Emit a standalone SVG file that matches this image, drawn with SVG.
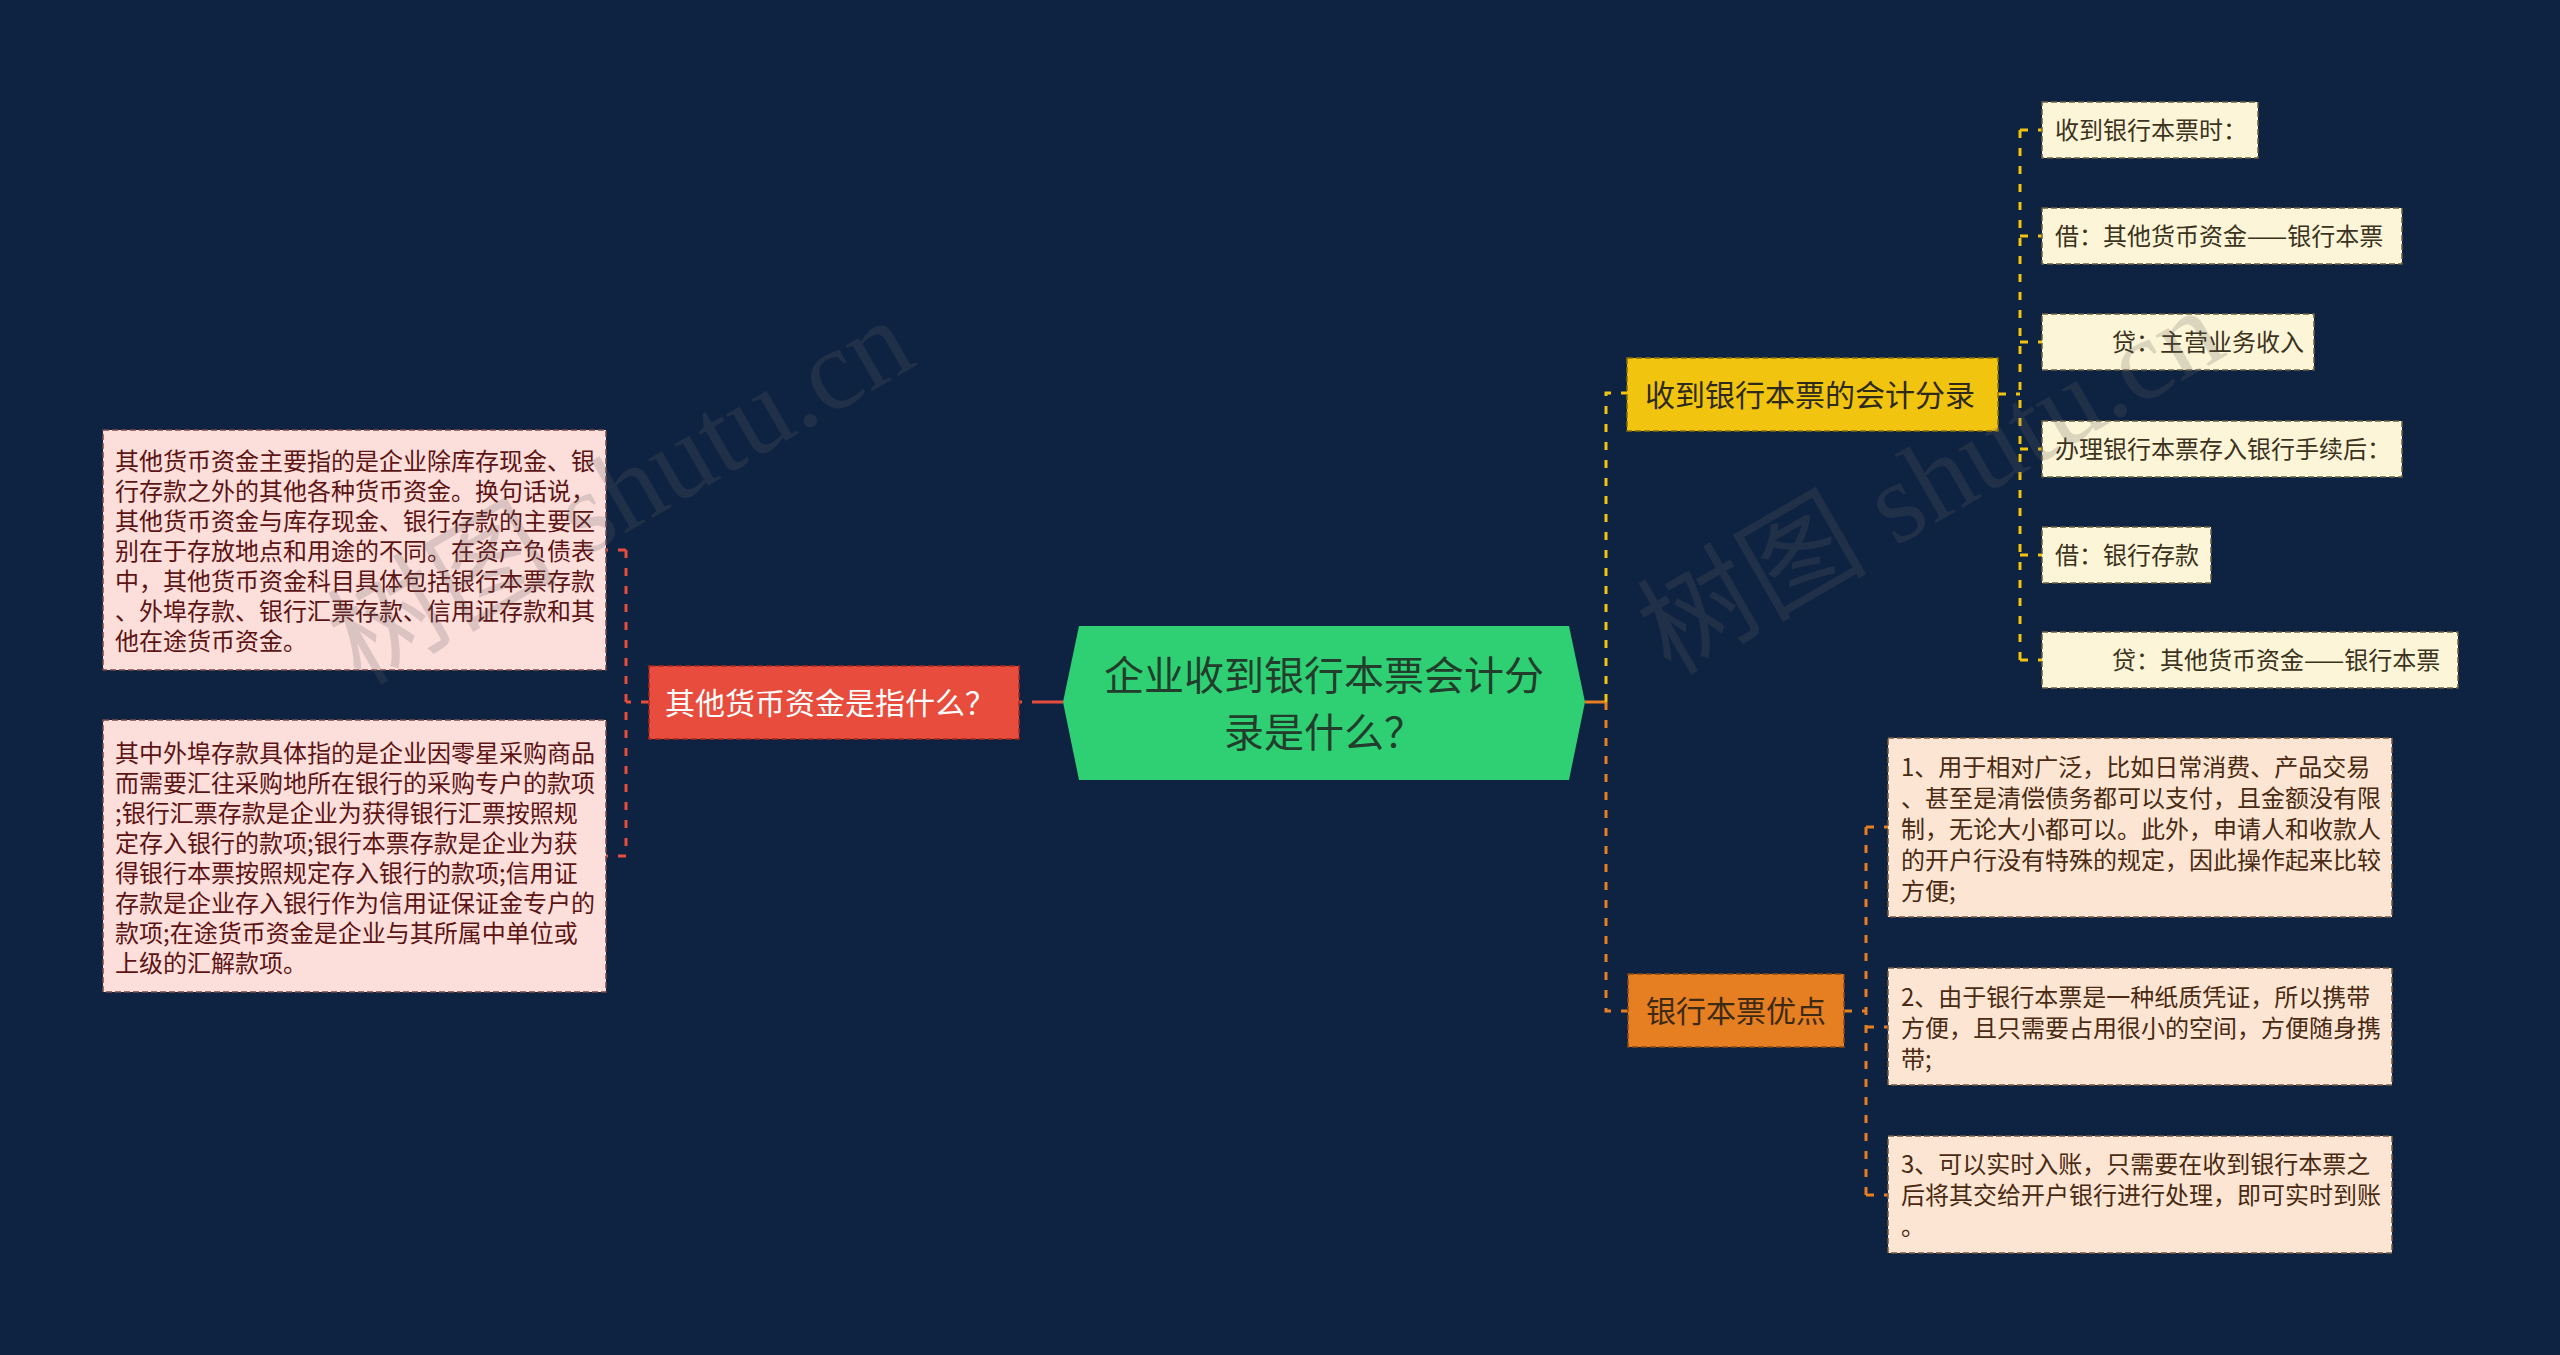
<svg xmlns="http://www.w3.org/2000/svg" width="2560" height="1355" viewBox="0 0 2560 1355">
<style>
text{font-family:"Noto Sans CJK SC","Noto Sans",sans-serif}
.leaf{fill:#fdf5d8;stroke:#6b6040;stroke-width:1.5;stroke-dasharray:6 3}
.leaft{font-size:24px;fill:#3b3320}
.pink{fill:#fcdedb;stroke:#7a4a48;stroke-width:1.5;stroke-dasharray:6 3}
.pinkt{font-size:24px;fill:#5c1414}
.peach{fill:#fce6d3;stroke:#7a5a40;stroke-width:1.5;stroke-dasharray:6 3}
.peacht{font-size:24px;fill:#4a2a12}
.lnr{stroke:#e74c3c;stroke-width:3;fill:none}
.lny{stroke:#f1c40f;stroke-width:3;fill:none}
.lno{stroke:#e67e22;stroke-width:3;fill:none}
.dash{stroke-dasharray:8 10}
.wm{font-family:"Liberation Serif","Noto Sans CJK SC",serif;font-size:115px;fill:#646464;fill-opacity:0.22}
</style>
<rect width="2560" height="1355" fill="#0e2241"/>
<g id="connectors">
<path class="lnr" d="M1063 702 H1040"/>
<path class="lnr dash" d="M1040 702 H1019"/>
<path class="lnr dash" d="M649 702 H626 M626 550 V856 M626 550 H606 M626 856 H606"/>
<path class="lno" d="M1585 702 H1606"/>
<path class="lny dash" d="M1606 702 V393 H1627"/>
<path class="lno dash" d="M1606 702 V1011 H1628"/>
<path class="lny dash" d="M1998 394 H2020 M2020 130 V660 M2020 130 H2042 M2020 236 H2042 M2020 342 H2042 M2020 449 H2042 M2020 555 H2042 M2020 660 H2042"/>
<path class="lno dash" d="M1844 1011 H1866 M1866 827 V1195 M1866 827 H1888 M1866 1027 H1888 M1866 1195 H1888"/>
</g>
<g id="center">
<polygon points="1079,626 1569,626 1585,702 1569,780 1079,780 1063,702" fill="#2fd073"/>
<text x="1324" y="690" font-size="40" fill="#233d2c" text-anchor="middle">企业收到银行本票会计分</text>
<text x="1324" y="747" font-size="40" fill="#233d2c" text-anchor="middle">录是什么？</text>
</g>
<g id="n-red">
<rect x="649" y="666" width="370" height="73" fill="#e74c3c" stroke="#a8291c" stroke-width="1.5" stroke-dasharray="6 3"/>
<text x="665" y="714" font-size="30" fill="#ffffff">其他货币资金是指什么？</text>
</g>
<g id="n-left1">
<rect class="pink" x="103" y="430" width="503" height="240"/>
<text class="pinkt"><tspan x="115" y="470">其他货币资金主要指的是企业除库存现金、银</tspan><tspan x="115" y="500">行存款之外的其他各种货币资金。换句话说，</tspan><tspan x="115" y="530">其他货币资金与库存现金、银行存款的主要区</tspan><tspan x="115" y="560">别在于存放地点和用途的不同。在资产负债表</tspan><tspan x="115" y="590">中，其他货币资金科目具体包括银行本票存款</tspan><tspan x="115" y="620">、外埠存款、银行汇票存款、信用证存款和其</tspan><tspan x="115" y="650">他在途货币资金。</tspan></text>
</g>
<g id="n-left2">
<rect class="pink" x="103" y="720" width="503" height="272"/>
<text class="pinkt"><tspan x="115" y="762">其中外埠存款具体指的是企业因零星采购商品</tspan><tspan x="115" y="792">而需要汇往采购地所在银行的采购专户的款项</tspan><tspan x="115" y="822">;银行汇票存款是企业为获得银行汇票按照规</tspan><tspan x="115" y="852">定存入银行的款项;银行本票存款是企业为获</tspan><tspan x="115" y="882">得银行本票按照规定存入银行的款项;信用证</tspan><tspan x="115" y="912">存款是企业存入银行作为信用证保证金专户的</tspan><tspan x="115" y="942">款项;在途货币资金是企业与其所属中单位或</tspan><tspan x="115" y="972">上级的汇解款项。</tspan></text>
</g>
<g id="n-yellow">
<rect x="1627" y="358" width="371" height="73" fill="#f1c40f" stroke="#8a6f05" stroke-width="1.5" stroke-dasharray="6 3"/>
<text x="1645" y="406" font-size="30" fill="#2d2a1a">收到银行本票的会计分录</text>
</g>
<g id="n-orange">
<rect x="1628" y="974" width="216" height="73" fill="#e67e22" stroke="#8a4a10" stroke-width="1.5" stroke-dasharray="6 3"/>
<text x="1646" y="1022" font-size="30" fill="#3d2a14">银行本票优点</text>
</g>
<g id="leaf1"><rect class="leaf" x="2042" y="102" width="216" height="56"/><text class="leaft" x="2055" y="139">收到银行本票时：</text></g>
<g id="leaf2"><rect class="leaf" x="2042" y="208" width="360" height="56"/><text class="leaft" x="2055" y="245">借：其他货币资金——银行本票</text></g>
<g id="leaf3"><rect class="leaf" x="2042" y="314" width="272" height="56"/><text class="leaft" x="2112" y="351">贷：主营业务收入</text></g>
<g id="leaf4"><rect class="leaf" x="2042" y="421" width="360" height="56"/><text class="leaft" x="2055" y="458">办理银行本票存入银行手续后：</text></g>
<g id="leaf5"><rect class="leaf" x="2042" y="527" width="169" height="56"/><text class="leaft" x="2055" y="564">借：银行存款</text></g>
<g id="leaf6"><rect class="leaf" x="2042" y="632" width="416" height="56"/><text class="leaft" x="2112" y="669">贷：其他货币资金——银行本票</text></g>
<g id="adv1">
<rect class="peach" x="1888" y="738" width="504" height="179"/>
<text class="peacht"><tspan x="1901" y="776">1、用于相对广泛，比如日常消费、产品交易</tspan><tspan x="1901" y="807">、甚至是清偿债务都可以支付，且金额没有限</tspan><tspan x="1901" y="838">制，无论大小都可以。此外，申请人和收款人</tspan><tspan x="1901" y="869">的开户行没有特殊的规定，因此操作起来比较</tspan><tspan x="1901" y="900">方便;</tspan></text>
</g>
<g id="adv2">
<rect class="peach" x="1888" y="968" width="504" height="117"/>
<text class="peacht"><tspan x="1901" y="1006">2、由于银行本票是一种纸质凭证，所以携带</tspan><tspan x="1901" y="1037">方便，且只需要占用很小的空间，方便随身携</tspan><tspan x="1901" y="1068">带;</tspan></text>
</g>
<g id="adv3">
<rect class="peach" x="1888" y="1136" width="504" height="117"/>
<text class="peacht"><tspan x="1901" y="1173">3、可以实时入账，只需要在收到银行本票之</tspan><tspan x="1901" y="1204">后将其交给开户银行进行处理，即可实时到账</tspan><tspan x="1901" y="1235">。</tspan></text>
</g>
<text class="wm" transform="translate(640,525) rotate(-30)" text-anchor="middle">树图 shutu.cn</text>
<text class="wm" transform="translate(1950,515) rotate(-30)" text-anchor="middle">树图 shutu.cn</text>
</svg>
